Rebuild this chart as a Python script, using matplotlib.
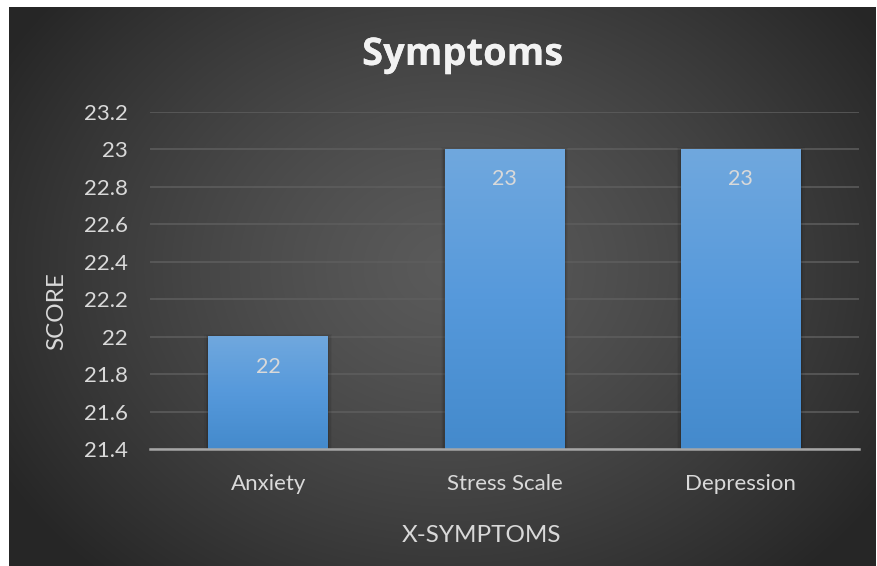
import matplotlib.pyplot as plt
import matplotlib.patheffects as pe
import numpy as np

categories = ['Anxiety', 'Stress Scale', 'Depression']
scores = [22, 23, 23]
yticks = [21.4, 21.6, 21.8, 22, 22.2, 22.4, 22.6, 22.8, 23, 23.2]
ytick_labels = ['21.4', '21.6', '21.8', '22', '22.2', '22.4', '22.6', '22.8', '23', '23.2']

plt.rcParams['font.family'] = ['Lato', 'DejaVu Sans']

W, H = 877, 566
fig = plt.figure(figsize=(W / 100, H / 100), dpi=100, facecolor='white')

# dark radial background of the chart area
bg = fig.add_axes([9 / W, 0, 867 / W, 559 / H])
yy, xx = np.mgrid[0:559, 0:867]
r = np.sqrt(((xx - 440) / 520.0) ** 2 + ((yy - 260) / 420.0) ** 2)
r = np.clip(r, 0, 1)
shade = (90 - 52 * r ** 1.3) / 255.0
bg.imshow(np.dstack([shade, shade, shade]), aspect='auto', interpolation='bilinear')
bg.axis('off')

ax = fig.add_axes([150 / W, 117 / H, 709 / W, 337 / H])
ax.patch.set_alpha(0)
ax.set_ylim(21.4, 23.2)
ax.set_xlim(-0.5, 2.5)

bars = ax.bar(range(len(categories)), scores, width=0.505, color='none', zorder=3)

grad = np.array([[112, 168, 222], [86, 153, 219], [68, 138, 204]]) / 255.0
t = np.linspace(0, 1, 256)
cols = np.empty((256, 1, 3))
for c in range(3):
    cols[:, 0, c] = np.interp(t, [0, 0.5, 1], grad[:, c])

for b, v in zip(bars, scores):
    x0, w = b.get_x(), b.get_width()
    # soft shadow
    for k, a in [(0.006, 0.10), (0.012, 0.07), (0.018, 0.04)]:
        ax.add_patch(plt.Rectangle((x0 - k, 21.4), w + 2 * k, v - 21.4 + k * 0.8,
                                   color='black', alpha=a, zorder=2, lw=0))
    ax.imshow(cols, extent=[x0, x0 + w, 21.4, v], aspect='auto', zorder=3,
              interpolation='bilinear')
    ax.text(b.get_x() + w / 2, v - 0.16, f'{v}', ha='center', va='center',
            color='#d9d9d9', fontsize=15.5, zorder=4)

ax.set_xlim(-0.5, 2.5)
ax.set_ylim(21.4, 23.2)

ax.set_yticks(yticks)
ax.set_yticklabels(ytick_labels)
ax.set_xticks(range(len(categories)))
ax.set_xticklabels(categories)
ax.tick_params(axis='both', length=0, colors='#d9d9d9', labelsize=16)
ax.tick_params(axis='y', pad=16)
ax.tick_params(axis='x', pad=18)
ax.grid(axis='y', color='#5e5e5e', lw=1.1, zorder=1)
for s in ['top', 'right', 'left']:
    ax.spines[s].set_visible(False)
ax.spines['bottom'].set_color('#a6a6a6')
ax.spines['bottom'].set_linewidth(1.8)
ax.spines['bottom'].set_zorder(5)

fig.text(463 / W, 1 - 55 / H, 'Symptoms', ha='center', va='center', color='#f2f2f2',
         fontsize=27.5, fontweight='bold', family=['Open Sans', 'DejaVu Sans'],
         path_effects=[pe.withSimplePatchShadow(offset=(1, -1.5), alpha=0.45), pe.Normal()])
fig.text(481 / W, 1 - 536 / H, 'X-SYMPTOMS', ha='center', va='center', color='#d9d9d9',
         fontsize=17.5)
fig.text(57 / W, 1 - 311 / H, 'SCORE', ha='center', va='center', color='#d9d9d9',
         fontsize=17.5, rotation=90)

fig.savefig('out.png', dpi=100, facecolor='white')
